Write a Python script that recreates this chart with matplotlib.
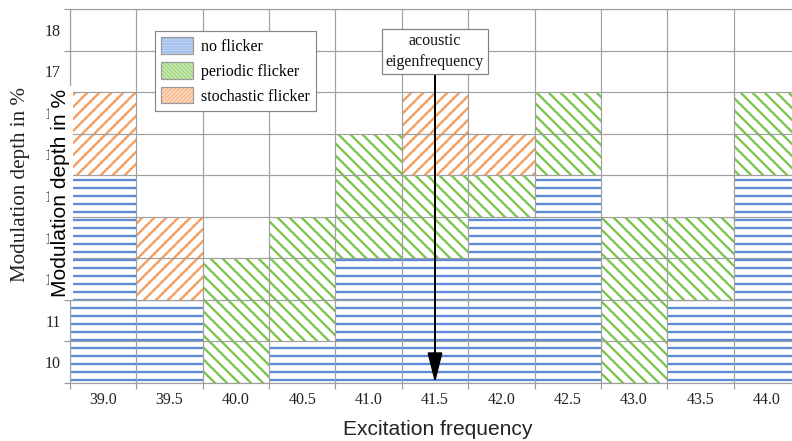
import numpy as np
import matplotlib
matplotlib.use("Agg")
import matplotlib.pyplot as plt
from matplotlib.patches import Patch
from matplotlib.legend_handler import HandlerTuple

# data: stacked 1%-cells per excitation frequency, starting at 9.5 %
freqs = [39.0, 39.5, 40.0, 40.5, 41.0, 41.5, 42.0, 42.5, 43.0, 43.5, 44.0]
no_flicker = [5, 2, 0, 1, 3, 3, 4, 5, 0, 2, 5]
periodic = [0, 0, 3, 3, 3, 2, 1, 2, 4, 2, 2]
stochastic = [2, 2, 0, 0, 0, 2, 1, 0, 0, 0, 0]
base = 9.5
y_ticks = [10, 11, 12, 13, 14, 15, 16, 17, 18]
labels = ["no flicker", "periodic flicker", "stochastic flicker"]
eigen_freq = 41.5

blue = "#5b8bd8"
green = "#78c449"
orange = "#f59d5a"

plt.rcParams["hatch.linewidth"] = 1.15

# dpi 144 so the hatch spacing matches the picture
fig = plt.figure(figsize=(5.5, 3.0625), dpi=144)
ax = fig.add_axes([70/792, 1-383/441, 730/792, 374/441])

b1 = np.full(len(freqs), base)
b2 = b1 + np.array(no_flicker)
b3 = b2 + np.array(periodic)
ax.bar(freqs, no_flicker, width=0.5, bottom=b1, color="white", edgecolor=blue, lw=0, hatch="---", zorder=1)
ax.bar(freqs, periodic, width=0.5, bottom=b2, color="white", edgecolor=green, lw=0, hatch="\\"*4, zorder=1)
ax.bar(freqs, stochastic, width=0.5, bottom=b3, color="white", edgecolor=orange, lw=0, hatch="/"*4, zorder=1)

ax.set_xlim(freqs[0]-0.25, freqs[-1]+0.25)
ax.set_ylim(base, 18.5)
ax.set_xticks(freqs)
ax.set_xticklabels(["%.1f" % f for f in freqs])
ax.set_yticks(y_ticks)
ax.set_xticks(np.arange(freqs[0]-0.25, freqs[-1]+0.3, 0.5), minor=True)
ax.set_yticks(np.arange(9.5, 18.6, 1.0), minor=True)
ax.tick_params(which="major", length=0, labelsize=8, labelcolor="#222222", pad=4.5)
ax.tick_params(which="minor", length=3, width=0.6, color="#999999", direction="out")
for lab in ax.get_xticklabels() + ax.get_yticklabels():
    lab.set_family("Liberation Serif")

ax.set_axisbelow(False)
ax.grid(which="minor", color="#a0a0a0", lw=0.6, zorder=2)
for s in ax.spines.values():
    s.set_color("#a0a0a0")
    s.set_linewidth(0.6)

# legend with hatched boxes and grey frame
handles = []
for c, h in [("#a3bfec", "-"*9), ("#a6da86", "\\"*12), ("#f9bf94", "/"*12)]:
    p = Patch(facecolor="white", edgecolor=c, lw=0, hatch=h)
    if hasattr(p, "set_hatch_linewidth"):
        p.set_hatch_linewidth(0.6)
    frame = Patch(facecolor="none", edgecolor="#999999", lw=0.6)
    handles.append((p, frame))
leg = ax.legend(handles, labels, handler_map={tuple: HandlerTuple(ndivide=1, pad=0)},
                loc="upper left", bbox_to_anchor=(0.1164, 0.9412), borderaxespad=0,
                prop={"family": "Liberation Serif", "size": 8}, fancybox=False,
                edgecolor="#888888", framealpha=1, handlelength=2.0, handleheight=1.2,
                handletextpad=0.45, labelspacing=0.45, borderpad=0.4)
leg.get_frame().set_linewidth(0.6)
leg.set_zorder(5)

ax.annotate("acoustic\neigenfrequency", xy=(eigen_freq, base), xytext=(eigen_freq, 17.48),
            ha="center", va="center", family="Liberation Serif", fontsize=8, color="#111111",
            linespacing=1.4,
            bbox=dict(boxstyle="square,pad=0.25", fc="white", ec="#808080", lw=0.6),
            arrowprops=dict(arrowstyle="-|>,head_length=1.6,head_width=0.4", color="black",
                            lw=1.0, shrinkA=0, shrinkB=0), zorder=6)

# axis labels
fig.text(21/792, 1-185/441, "Modulation depth in %", rotation=90, ha="center", va="center",
         family="Liberation Serif", fontsize=10.5, color="#222222")
fig.text(61/792, 1-193/441, "Modulation depth in %", rotation=90, ha="center", va="center",
         family="Liberation Sans", fontsize=10.5, color="black",
         bbox=dict(boxstyle="square,pad=0.12", fc="white", ec="none"))
fig.text(438/792, 1-435/441, "Excitation frequency", ha="center", va="baseline",
         family="Liberation Sans", fontsize=10.5, color="#222222")

fig.savefig("out.png", dpi=144)
